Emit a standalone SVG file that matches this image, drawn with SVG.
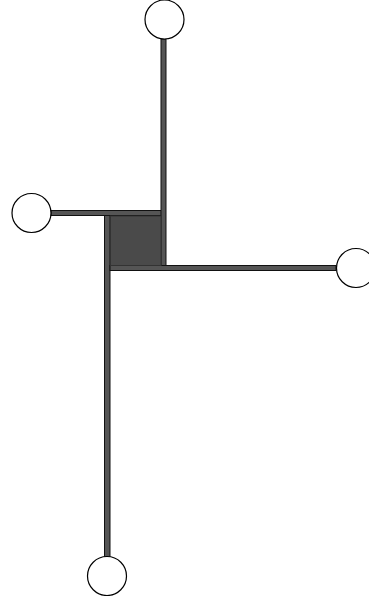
<svg xmlns="http://www.w3.org/2000/svg" width="369" height="596" viewBox="0 0 369 596">
<style>
.bar{fill:#555;stroke:#111;stroke-width:1}
.node{fill:#fff;stroke:#000;stroke-width:1.2}
.core{fill:#4a4a4a;stroke:#333;stroke-width:1}
</style>
<rect width="369" height="596" fill="#fff"/>
<g id="connectors">
<rect class="bar" x="104.5" y="215.5" width="5.5" height="341"/>
<rect class="bar" x="51" y="210.5" width="110.5" height="5"/>
<rect class="bar" x="161" y="39" width="5" height="226.5"/>
<rect class="bar" x="110" y="265.5" width="226" height="5"/>
</g>
<g id="center"><rect class="core" x="110.5" y="216" width="50.5" height="49.5"/></g>
<g id="n-top"><circle class="node" cx="164.5" cy="19.5" r="19.5"/></g>
<g id="n-left"><circle class="node" cx="31.5" cy="213" r="19.5"/></g>
<g id="n-right"><circle class="node" cx="356" cy="268" r="19.5"/></g>
<g id="n-bottom"><circle class="node" cx="107" cy="576" r="19.5"/></g>
</svg>
